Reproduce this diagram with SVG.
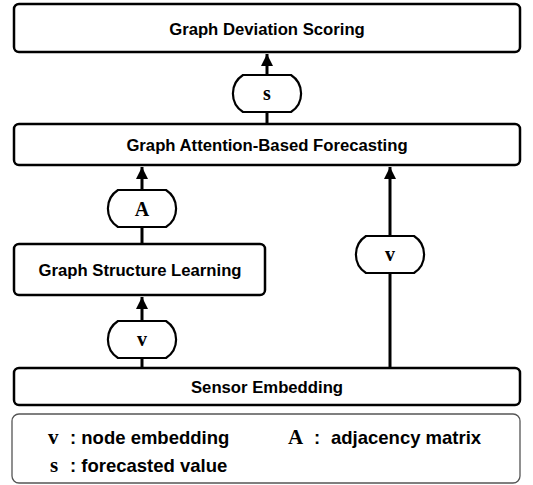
<svg xmlns="http://www.w3.org/2000/svg" width="533" height="485" viewBox="0 0 533 485">
<style>
.box{fill:#fff;stroke:#000;stroke-width:2.5}
.pill{fill:#fff;stroke:#000;stroke-width:2.2}
.lbl{font-family:"Liberation Sans",Arial,Helvetica,sans-serif;font-weight:bold;font-size:16.7px;fill:#000;text-anchor:middle}
.sym{font-family:"Liberation Serif","Times New Roman",serif;font-weight:bold;font-size:20px;fill:#000;text-anchor:middle}
.leg{font-family:"Liberation Sans",Arial,Helvetica,sans-serif;font-weight:bold;font-size:18.5px;fill:#000}
.lsym{font-family:"Liberation Serif","Times New Roman",serif;font-weight:bold;font-size:21px;fill:#000}
.edge{stroke:#000;stroke-width:3;fill:none}
</style>
<defs>
<marker id="arr" markerUnits="userSpaceOnUse" markerWidth="12" markerHeight="13" refX="12" refY="6" orient="auto">
<path d="M0,0 L12,6 L0,12 z" fill="#000"/>
</marker>
</defs>
<g id="connectors">
<line class="edge" x1="267" y1="124" x2="267" y2="54" marker-end="url(#arr)"/>
<line class="edge" x1="142" y1="244" x2="142" y2="167" marker-end="url(#arr)"/>
<line class="edge" x1="142" y1="368" x2="142" y2="297" marker-end="url(#arr)"/>
<line class="edge" x1="390" y1="368" x2="390" y2="167" marker-end="url(#arr)"/>
</g>
<g id="graph-deviation-scoring">
<rect class="box" x="14" y="4" width="506" height="48" rx="5"/>
<text class="lbl" x="267" y="35">Graph Deviation Scoring</text>
</g>
<g id="graph-attention-forecasting">
<rect class="box" x="14" y="124" width="506" height="41" rx="5"/>
<text class="lbl" x="267" y="151">Graph Attention-Based Forecasting</text>
</g>
<g id="graph-structure-learning">
<rect class="box" x="14" y="244" width="251" height="51" rx="5"/>
<text class="lbl" x="140" y="276">Graph Structure Learning</text>
</g>
<g id="sensor-embedding">
<rect class="box" x="14" y="368" width="506" height="37" rx="5"/>
<text class="lbl" x="267" y="393">Sensor Embedding</text>
</g>
<g id="pill-s">
<path class="pill" d="M243,75 H291 A22,22 0 0 1 291,112 H243 A22,22 0 0 1 243,75 Z"/>
<text class="sym" x="267" y="100">s</text>
</g>
<g id="pill-A">
<path class="pill" d="M118,190 H166 A22,22 0 0 1 166,227 H118 A22,22 0 0 1 118,190 Z"/>
<text class="sym" x="142" y="216">A</text>
</g>
<g id="pill-v-left">
<path class="pill" d="M118,321 H166 A22,22 0 0 1 166,358 H118 A22,22 0 0 1 118,321 Z"/>
<text class="sym" x="142" y="346">v</text>
</g>
<g id="pill-v-right">
<path class="pill" d="M366,236 H414 A22,22 0 0 1 414,273 H366 A22,22 0 0 1 366,236 Z"/>
<text class="sym" x="390" y="261">v</text>
</g>
<g id="legend">
<rect x="12" y="414" width="508" height="69" rx="7" fill="#fff" stroke="#555" stroke-width="1.3"/>
<text class="lsym" x="48" y="444">v</text>
<text class="leg" x="70" y="444">: node embedding</text>
<text class="lsym" x="288" y="444">A</text>
<text class="leg" x="314" y="444">:</text>
<text class="leg" x="331" y="444">adjacency matrix</text>
<text class="lsym" x="50" y="472">s</text>
<text class="leg" x="70" y="472">: forecasted value</text>
</g>
</svg>
